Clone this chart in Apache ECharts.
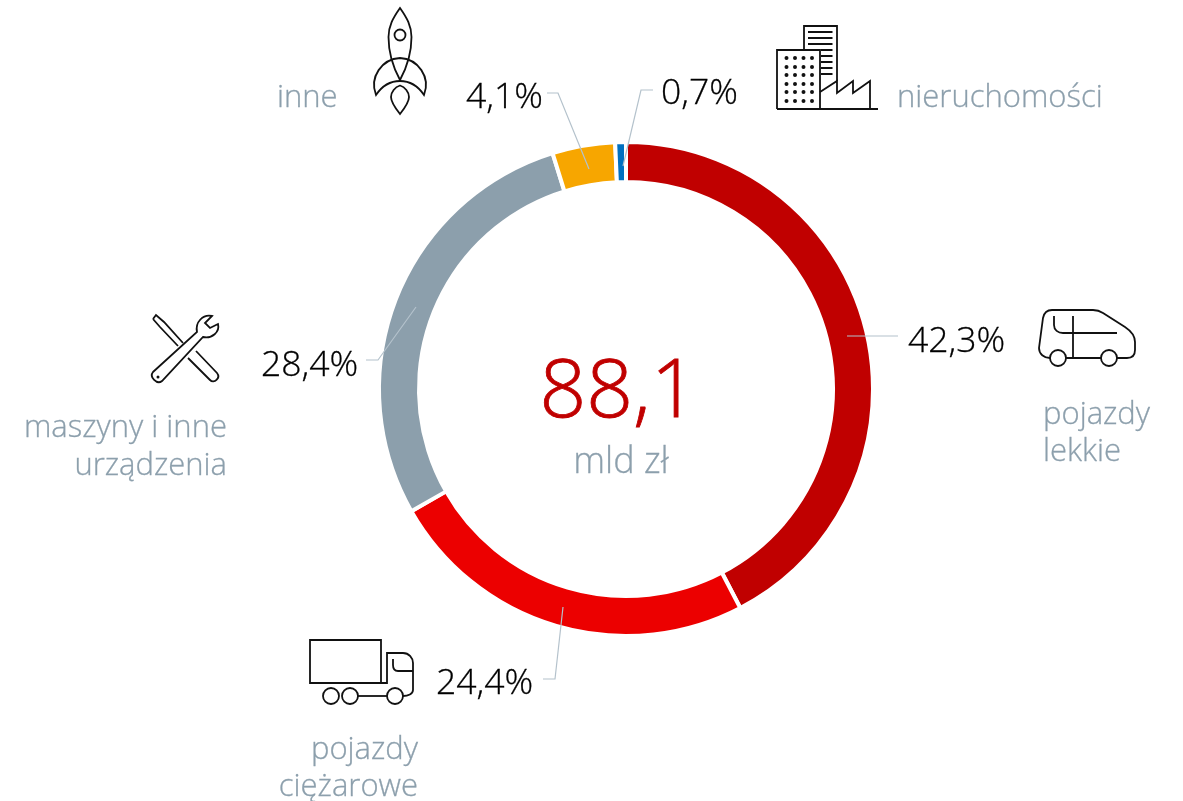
<!DOCTYPE html>
<html><head><meta charset="utf-8">
<style>html,body{margin:0;padding:0;background:#fff}#c{width:1183px;height:801px}</style>
<script src="https://cdn.jsdelivr.net/npm/echarts@6/dist/echarts.min.js"></script>
</head><body><div id="c"></div>
<script>
const categories = ['pojazdy lekkie', 'pojazdy ciężarowe', 'maszyny i inne urządzenia', 'inne', 'nieruchomości'];
const shares = [42.3, 24.4, 28.4, 4.1, 0.7];
const sliceColors = ['#c00000', '#ec0000', '#8c9fac', '#f7a600', '#0070c0'];
const total = '88,1';
const unit = 'mld zł';

const FONT = '"Open Sans", "Noto Sans", sans-serif';
const GREY = '#8c9fac';
const LINE = '#b4c2cc';
const INK = '#000';

const percentPos = [[908, 342], [436, 684], [261, 366], [466, 98], [661, 94]];
const leaders = [
  [[847, 336], [898, 336]],
  [[563, 607], [555, 679], [543, 679]],
  [[416, 307], [378, 360], [366, 360]],
  [[589, 169], [558, 93], [547, 93]],
  [[623, 166], [641, 90], [653, 90]]
];
const captions = [
  {t: 'pojazdy', x: 1043, y: 415, a: 'left'}, {t: 'lekkie', x: 1043, y: 452, a: 'left'},
  {t: 'pojazdy', x: 418, y: 750, a: 'right'}, {t: 'ciężarowe', x: 418, y: 787, a: 'right'},
  {t: 'maszyny i inne', x: 227, y: 428, a: 'right'}, {t: 'urządzenia', x: 227, y: 466, a: 'right'},
  {t: 'inne', x: 277, y: 98, a: 'left'}, {t: 'nieruchomości', x: 897, y: 98, a: 'left'}
];

function dots() {
  let d = '';
  for (const y of [58, 67, 75, 84, 92, 101]) for (const x of [786.5, 795, 803.5, 812])
    d += `M${x - 2} ${y}a2 2 0 1 0 4 0a2 2 0 1 0 -4 0Z`;
  return d;
}
function circle(x, y, r) { return `M${x - r} ${y}a${r} ${r} 0 1 0 ${2 * r} 0a${r} ${r} 0 1 0 ${-2 * r} 0Z`; }

const iconStroke = [
  // rocket
  'M400 8C393 18 388.500 26 388.500 37C388.500 53 394 69 400 80C406 69 411.500 53 411.500 37C411.500 26 407 18 400 8Z',
  circle(400, 35, 5.5),
  'M376 95C369 77 382 59 400 58C418 59 431 77 424 95C418 86 410 81 400 81C390 81 382 86 376 95Z',
  'M400 85.500C395 87 391 92 391 97C391 102 396 109 400 114C404 109 409 102 409 97C409 92 405 87 400 85.500Z',
  // buildings
  'M777 109V50H820V109',
  'M804 50V26H837V81',
  'M808 32H832.500M808 38H832.500M808 44H832.500M821 50H832.500M821 56H832.500M821 62H832.500M821 68H832.500M821 74H832.500',
  'M820 92L837 81V93L853 81V93L870 81V109',
  'M777 109H878',
  // tools
  'M153 319L156 315L164 322L183 343M160 327L178 346M196 351L217 373C221 378 214 384 210 380L188 358M153 319L160 327',
  'M153 372L197 332C195 322 203 314 212 316L205 323L210 328L218 324C220 332 212 339 203 337L162 381C157 385 149 377 153 372Z',
  // truck
  'M310 640H381V683H310Z',
  'M381 683H387V653H403C409 653 413 658 413 663V690C413 694 408 696 403 696',
  'M393 659V665C393 669 395 671 398 671H413',
  circle(331, 696, 8), circle(350, 696, 8), circle(395, 696, 8),
  'M358 696H387',
  // car
  'M1050 358C1044 358 1039 354 1039 348L1043 318C1044 313 1047 310 1052 310H1093C1097 310 1100 311 1103 313L1125 327C1131 331 1135 336 1135 342V350C1135 355 1132 358 1127 358H1117',
  circle(1058, 358, 8), circle(1109, 358, 8),
  'M1066 358H1101',
  'M1054 316V325C1054 330 1058 333 1063 333H1117',
  'M1073 316V358'
];
const iconFill = [dots(), circle(158, 377, 1.5)];

const chart = echarts.init(document.getElementById('c'));
chart.setOption({
  animation: false,
  backgroundColor: '#fff',
  series: [
    {
      type: 'pie',
      silent: true,
      radius: [207, 247],
      center: [626, 389],
      startAngle: 90,
      clockwise: true,
      itemStyle: {borderColor: '#fff', borderWidth: 4},
      data: categories.map((name, i) => ({name, value: shares[i], itemStyle: {color: sliceColors[i]}})),
      label: {
        show: true,
        formatter: p => p.value.toFixed(1).replace('.', ',') + '%',
        fontFamily: FONT, fontWeight: 300, fontSize: 35.5, color: INK,
        textBorderColor: INK, textBorderWidth: 0.3
      },
      labelLine: {show: false},
      labelLayout: p => ({x: percentPos[p.dataIndex][0], y: percentPos[p.dataIndex][1], align: 'left', verticalAlign: 'middle'})
    },
    {
      type: 'custom',
      coordinateSystem: 'none',
      silent: true,
      data: [0],
      renderItem: () => ({
        type: 'group',
        children: iconStroke.map(d => ({type: 'path', shape: {pathData: d}, style: {fill: 'none', stroke: '#111', lineWidth: 1.8}}))
          .concat(iconFill.map(d => ({type: 'path', shape: {pathData: d}, style: {fill: '#111'}})))
      })
    }
  ],
  graphic: {
    elements: [
      ...leaders.map(pts => ({type: 'polyline', z: 10, silent: true, shape: {points: pts}, style: {stroke: LINE, lineWidth: 1.2, fill: 'none'}})),
      ...captions.map(c => ({type: 'text', silent: true, style: {text: c.t, x: c.x, y: c.y, align: c.a, verticalAlign: 'middle', fill: GREY, font: '300 31px ' + FONT, stroke: GREY, lineWidth: 0.3}})),
      {type: 'text', silent: true, style: {text: total, x: 618.5, y: 394, align: 'center', verticalAlign: 'middle', fill: '#c00000', font: '300 82px ' + FONT, stroke: '#c00000', lineWidth: 0.8}},
      {type: 'text', silent: true, style: {text: unit, x: 621, y: 463, align: 'center', verticalAlign: 'middle', fill: GREY, font: '300 36px ' + FONT, stroke: GREY, lineWidth: 0.3}}
    ]
  }
});
</script></body></html>
